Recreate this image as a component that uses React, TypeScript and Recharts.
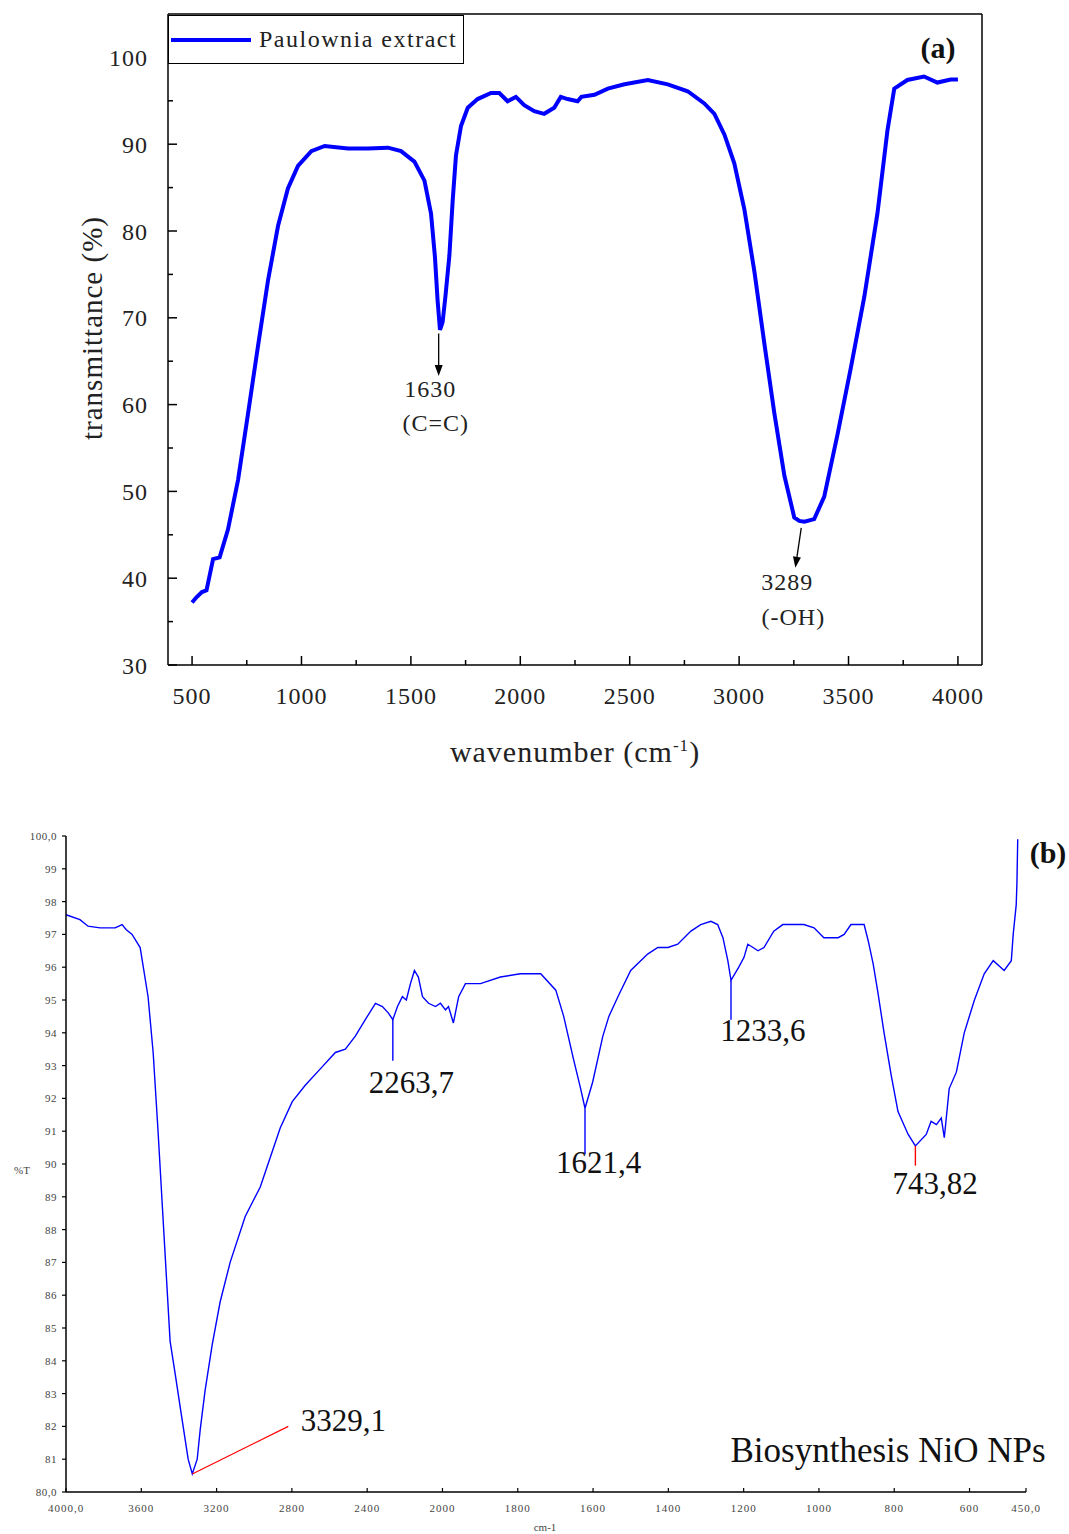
import React from 'react';
import { LineChart, Line, XAxis, YAxis, ReferenceLine, ReferenceDot, Legend } from 'recharts';

// (a) Paulownia extract: wavenumber (cm-1) and transmittance (%)
const extractWave = [500, 520, 545, 566, 596, 626, 664, 710, 756, 801, 847, 893, 938, 984, 1045, 1106, 1212, 1303, 1395, 1455, 1516, 1562, 1592, 1610, 1622, 1633, 1645, 1658, 1676, 1691, 1706, 1729, 1760, 1805, 1866, 1904, 1942, 1980, 2018, 2064, 2109, 2155, 2185, 2216, 2262, 2279, 2339, 2400, 2476, 2583, 2674, 2765, 2841, 2887, 2933, 2978, 3024, 3070, 3115, 3161, 3207, 3252, 3275, 3298, 3343, 3389, 3450, 3511, 3572, 3632, 3678, 3709, 3769, 3845, 3906, 3967, 4000];
const extractT = [37.2, 37.8, 38.4, 38.6, 42.2, 42.4, 45.6, 51.3, 59.0, 66.7, 74.3, 80.6, 84.9, 87.5, 89.2, 89.8, 89.5, 89.5, 89.6, 89.2, 88.0, 85.8, 82.0, 77.0, 72.0, 68.6, 69.5, 72.5, 77.2, 83.5, 88.7, 92.1, 94.2, 95.2, 95.9, 95.9, 94.95, 95.45, 94.5, 93.8, 93.5, 94.2, 95.45, 95.2, 94.95, 95.45, 95.7, 96.4, 96.9, 97.4, 96.9, 96.1, 94.7, 93.5, 91.1, 87.8, 82.5, 75.3, 67.1, 59.0, 51.8, 47.0, 46.6, 46.5, 46.8, 49.4, 56.6, 64.3, 72.4, 82.0, 91.6, 96.4, 97.4, 97.8, 97.1, 97.45, 97.45];

const extractXTicks = [500, 750, 1000, 1250, 1500, 1750, 2000, 2250, 2500, 2750, 3000, 3250, 3500, 3750, 4000];
const extractYTicks = [30, 35, 40, 45, 50, 55, 60, 65, 70, 75, 80, 85, 90, 95, 100];

// (b) biosynthesised NiO NPs: wavenumber (cm-1) and %T
const nioWave = [4000, 3926, 3883, 3819, 3739, 3702, 3681, 3649, 3606, 3564, 3537, 3511, 3484, 3447, 3420, 3383, 3351, 3329.1, 3303, 3287, 3261, 3223, 3181, 3128, 3048, 2968, 2915, 2862, 2798, 2729, 2649, 2569, 2516, 2463, 2410, 2356, 2319, 2287, 2263.7, 2239, 2213, 2192, 2170, 2149, 2128, 2106, 2074, 2037, 2011, 1992, 1984, 1971, 1957, 1939, 1899, 1846, 1793, 1739, 1699, 1678, 1652, 1633, 1621.4, 1601, 1574, 1558, 1534, 1500, 1455, 1428, 1401, 1375, 1340, 1314, 1287, 1269, 1255, 1242, 1233.6, 1213, 1199, 1189, 1175, 1162, 1146, 1120, 1096, 1040, 1013, 987, 968, 949, 933, 915, 896, 880, 869, 856, 843, 827, 808, 790, 763, 743.82, 715, 702, 688, 675, 667, 654, 635, 614, 587, 561, 537, 508, 489, 484, 476, 474, 472];
const nioT = [97.6, 97.45, 97.25, 97.2, 97.2, 97.3, 97.15, 97.0, 96.6, 95.1, 93.4, 91.0, 88.3, 84.6, 83.6, 82.2, 81.0, 80.55, 81.0, 81.9, 83.1, 84.5, 85.8, 87.0, 88.4, 89.3, 90.2, 91.1, 91.9, 92.4, 92.9, 93.4, 93.5, 93.9, 94.4, 94.9, 94.8, 94.6, 94.4, 94.8, 95.1, 95.0, 95.5, 95.9, 95.7, 95.1, 94.9, 94.8, 94.9, 94.7, 94.8, 94.3, 95.1, 95.5, 95.5, 95.7, 95.8, 95.8, 95.3, 94.5, 93.2, 92.3, 91.7, 92.5, 93.9, 94.5, 95.1, 95.9, 96.4, 96.6, 96.6, 96.7, 97.1, 97.3, 97.4, 97.3, 96.9, 96.2, 95.6, 96.0, 96.3, 96.7, 96.6, 96.5, 96.6, 97.1, 97.3, 97.3, 97.2, 96.9, 96.9, 96.9, 97.0, 97.3, 97.3, 97.3, 96.8, 96.1, 95.2, 94.0, 92.7, 91.6, 90.9, 90.55, 90.9, 91.3, 91.2, 91.4, 90.8, 92.3, 92.8, 94.0, 95.0, 95.8, 96.2, 95.9, 96.2, 97.0, 97.9, 98.6, 99.9];

const nioXTickWaves = [4000, 3600, 3200, 2800, 2400, 2000, 1800, 1600, 1400, 1200, 1000, 800, 600, 450];
const nioXTickLabels = ['4000,0', '3600', '3200', '2800', '2400', '2000', '1800', '1600', '1400', '1200', '1000', '800', '600', '450,0'];
const nioYTicks = [80, 81, 82, 83, 84, 85, 86, 87, 88, 89, 90, 91, 92, 93, 94, 95, 96, 97, 98, 99, 100];

const extractPeaks = [
  { wave: 1630, name: '1630', group: '(C=C)' },
  { wave: 3289, name: '3289', group: '(-OH)' },
];
const nioPeaks = ['3329,1', '2263,7', '1621,4', '1233,6', '743,82'];

const SERIF = '"Liberation Serif", "DejaVu Serif", serif';
const BLUE = '#0000ff';

// the spectrometer axis is 400 cm-1 per division above 2000 and 200 below
const toDiv = (w: number) => (w >= 2000 ? (4000 - w) / 400 : 5 + (2000 - w) / 200);

const extractData = extractWave.map((w, i) => ({ w, t: extractT[i] }));
const nioData = nioWave.map((w, i) => ({ u: toDiv(w), t: nioT[i] }));
const nioXTicks = nioXTickWaves.map(toDiv);

const A_XGAP = 22;
const A_YGAP = 20;

function ExtractXTick({ x, y, payload }: any) {
  const v = payload.value;
  const major = v % 500 === 0;
  const ay = y - A_XGAP;
  return (
    <g>
      <line x1={x} x2={x} y1={ay} y2={ay - (major ? 9 : 5)} stroke="#000" strokeWidth={1.5} />
      {major && (
        <text x={x} y={y} dy="0.71em" textAnchor="middle" fontSize={24} letterSpacing={1} fill="#222" fontFamily={SERIF}>
          {v}
        </text>
      )}
    </g>
  );
}

function ExtractYTick({ x, y, payload }: any) {
  const v = payload.value;
  const major = v % 10 === 0;
  const ax = x + A_YGAP;
  return (
    <g>
      <line x1={ax} x2={ax + (major ? 9 : 5)} y1={y} y2={y} stroke="#000" strokeWidth={1.5} />
      {major && (
        <text x={x} y={y} dy="0.355em" textAnchor="end" fontSize={24} letterSpacing={1} fill="#222" fontFamily={SERIF}>
          {v}
        </text>
      )}
    </g>
  );
}

function NioXTick({ x, y, index }: any) {
  const ay = y - 12;
  return (
    <g>
      <line x1={x} x2={x} y1={ay} y2={ay - 4} stroke="#000" strokeWidth={1.2} />
      <text x={x} y={y} dy="0.71em" textAnchor="middle" fontSize={11} letterSpacing={1} fill="#444" fontFamily={SERIF}>
        {nioXTickLabels[index]}
      </text>
    </g>
  );
}

function NioYTick({ x, y, payload }: any) {
  const v = payload.value;
  const ax = x + 9;
  return (
    <g>
      <line x1={ax} x2={ax - 4} y1={y} y2={y} stroke="#000" strokeWidth={1.2} />
      <text x={x} y={y} dy="0.355em" textAnchor="end" fontSize={11} letterSpacing={0.5} fill="#444" fontFamily={SERIF}>
        {v === 100 || v === 80 ? `${v},0` : v}
      </text>
    </g>
  );
}

function Arrow(props: any) {
  const { x1, y1, x2, y2 } = props;
  const ang = Math.atan2(y2 - y1, x2 - x1);
  const len = 11;
  const hw = 4;
  const bx = x2 - len * Math.cos(ang);
  const by = y2 - len * Math.sin(ang);
  const px = -Math.sin(ang) * hw;
  const py = Math.cos(ang) * hw;
  return (
    <g>
      <line x1={x1} y1={y1} x2={bx} y2={by} stroke="#000" strokeWidth={1.3} />
      <polygon points={`${x2},${y2} ${bx + px},${by + py} ${bx - px},${by - py}`} fill="#000" />
    </g>
  );
}

const labelFont = { fontSize: 24, fill: '#222', fontFamily: SERIF, letterSpacing: 1 };
const peakFont = { fontSize: 31, fill: '#111', fontFamily: SERIF };

function LegendBox({ payload }: any) {
  const item = payload && payload[0];
  return (
    <div style={{ width: 296, height: 49, boxSizing: 'border-box', border: '1.5px solid #000', background: '#fff', display: 'flex', alignItems: 'center' }}>
      <svg width={84} height={8} style={{ marginLeft: 2 }}>
        <line x1={0} y1={4} x2={80} y2={4} stroke={BLUE} strokeWidth={4} />
      </svg>
      <span style={{ marginLeft: 4, fontFamily: SERIF, fontSize: 24, letterSpacing: 1.5, color: '#222' }}>{item ? item.value : ''}</span>
    </div>
  );
}

const overlay = (cx: number, cy: number, style: React.CSSProperties = {}): React.CSSProperties => ({
  position: 'absolute',
  left: cx,
  top: cy,
  transform: 'translate(-50%, -50%)',
  whiteSpace: 'nowrap',
  lineHeight: 1,
  fontFamily: SERIF,
  ...style,
});

export default function App() {
  return (
    <div style={{ position: 'absolute', left: 0, top: 0, width: 1069, height: 1534, background: '#fff' }}>
      <div style={{ position: 'absolute', left: 0, top: 0 }}>
        <LineChart width={1069} height={780} data={extractData} margin={{ top: 14, right: 87, bottom: 75, left: 108 }}>
          <XAxis
            dataKey="w"
            type="number"
            domain={[390, 4110]}
            ticks={extractXTicks}
            interval={0}
            tickSize={0}
            tickMargin={A_XGAP}
            height={40}
            tick={<ExtractXTick />}
            axisLine={{ stroke: '#000', strokeWidth: 1.5 }}
          />
          <YAxis
            dataKey="t"
            type="number"
            domain={[30, 105]}
            ticks={extractYTicks}
            interval={0}
            tickSize={0}
            tickMargin={A_YGAP}
            width={60}
            tick={<ExtractYTick />}
            axisLine={{ stroke: '#000', strokeWidth: 1.5 }}
          />
          <ReferenceLine y={105} stroke="#000" strokeWidth={1.5} />
          <ReferenceLine x={4110} stroke="#000" strokeWidth={1.5} />
          <Line
            name="Paulownia extract"
            dataKey="t"
            type="linear"
            stroke={BLUE}
            strokeWidth={4}
            dot={false}
            isAnimationActive={false}
          />
          <ReferenceLine segment={[{ x: 1627, y: 68.2 }, { x: 1627, y: 63.3 }]} shape={<Arrow />} />
          <ReferenceLine segment={[{ x: 3284, y: 45.8 }, { x: 3257, y: 41.2 }]} shape={<Arrow />} />
          <ReferenceDot x={1588} y={61.9} r={0} fill="none" stroke="none" label={{ value: extractPeaks[0].name, position: 'center', ...labelFont }} />
          <ReferenceDot x={1614} y={57.9} r={0} fill="none" stroke="none" label={{ value: extractPeaks[0].group, position: 'center', ...labelFont }} />
          <ReferenceDot x={3220} y={39.6} r={0} fill="none" stroke="none" label={{ value: extractPeaks[1].name, position: 'center', ...labelFont }} />
          <ReferenceDot x={3248} y={35.6} r={0} fill="none" stroke="none" label={{ value: extractPeaks[1].group, position: 'center', ...labelFont }} />
          <Legend layout="horizontal" verticalAlign="middle" align="center" wrapperStyle={{ left: 168, top: 15, width: 'auto', height: 'auto' }} content={<LegendBox />} />
        </LineChart>
        <div style={overlay(92, 328, { transform: 'translate(-50%, -50%) rotate(-90deg)', fontSize: 29, letterSpacing: 1, color: '#222' })}>
          transmittance (%)
        </div>
        <div style={overlay(575, 752, { fontSize: 30, letterSpacing: 1, color: '#222' })}>
          wavenumber (cm<sup style={{ fontSize: 17 }}>-1</sup>)
        </div>
        <div style={overlay(938, 48, { fontSize: 30, fontWeight: 'bold', color: '#111' })}>(a)</div>
      </div>

      <div style={{ position: 'absolute', left: 0, top: 780 }}>
        <LineChart width={1069} height={754} data={nioData} margin={{ top: 56, right: 43, bottom: 22, left: 26 }}>
          <XAxis
            dataKey="u"
            type="number"
            domain={[0, 12.75]}
            ticks={nioXTicks}
            interval={0}
            tickSize={0}
            tickMargin={12}
            height={20}
            tick={<NioXTick />}
            axisLine={{ stroke: '#000', strokeWidth: 1.5 }}
          />
          <YAxis
            dataKey="t"
            type="number"
            domain={[80, 100]}
            ticks={nioYTicks}
            interval={0}
            tickSize={0}
            tickMargin={9}
            width={40}
            tick={<NioYTick />}
            axisLine={{ stroke: '#000', strokeWidth: 1.5 }}
          />
          <Line dataKey="t" type="linear" stroke={BLUE} strokeWidth={1.4} dot={false} isAnimationActive={false} />
          <ReferenceLine segment={[{ x: toDiv(3329.1), y: 80.55 }, { x: toDiv(2819), y: 82.0 }]} stroke="#ff0000" strokeWidth={1.2} />
          <ReferenceLine segment={[{ x: toDiv(2263.7), y: 94.4 }, { x: toDiv(2263.7), y: 93.15 }]} stroke={BLUE} strokeWidth={1.4} />
          <ReferenceLine segment={[{ x: toDiv(1621.4), y: 91.7 }, { x: toDiv(1621.4), y: 90.3 }]} stroke={BLUE} strokeWidth={1.4} />
          <ReferenceLine segment={[{ x: toDiv(1233.6), y: 95.6 }, { x: toDiv(1233.6), y: 94.4 }]} stroke={BLUE} strokeWidth={1.4} />
          <ReferenceLine segment={[{ x: toDiv(743.82), y: 90.55 }, { x: toDiv(743.82), y: 89.95 }]} stroke="#ff0000" strokeWidth={1.4} />
          <ReferenceDot x={3.684} y={82.2} r={0} fill="none" stroke="none" label={{ value: nioPeaks[0], position: 'center', ...peakFont }} />
          <ReferenceDot x={4.588} y={92.5} r={0} fill="none" stroke="none" label={{ value: nioPeaks[1], position: 'center', ...peakFont }} />
          <ReferenceDot x={7.074} y={90.06} r={0} fill="none" stroke="none" label={{ value: nioPeaks[2], position: 'center', ...peakFont }} />
          <ReferenceDot x={9.255} y={94.09} r={0} fill="none" stroke="none" label={{ value: nioPeaks[3], position: 'center', ...peakFont }} />
          <ReferenceDot x={11.543} y={89.42} r={0} fill="none" stroke="none" label={{ value: nioPeaks[4], position: 'center', ...peakFont }} />
        </LineChart>
        <div style={overlay(22, 390, { fontSize: 11, color: '#444' })}>%T</div>
        <div style={overlay(545, 747, { fontSize: 11, color: '#444' })}>cm-1</div>
        <div style={overlay(888, 670, { fontSize: 35, color: '#111' })}>Biosynthesis NiO NPs</div>
        <div style={overlay(1048, 73, { fontSize: 30, fontWeight: 'bold', color: '#111' })}>(b)</div>
      </div>
    </div>
  );
}
